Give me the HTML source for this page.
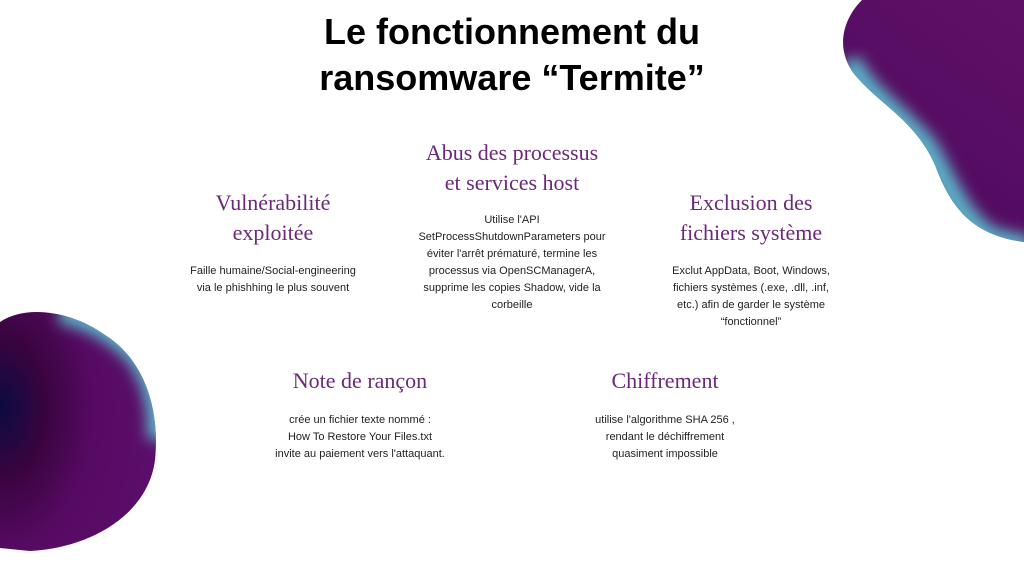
<!DOCTYPE html>
<html><head><meta charset="utf-8"><style>
body{margin:0;width:1024px;height:576px;background:#fff;position:relative;overflow:hidden;font-family:"Liberation Sans",sans-serif}
.t{position:absolute;left:0;width:1024px;text-align:center;font-weight:bold;font-size:36px;color:#000;line-height:46px;top:9px}
.h{position:absolute;text-align:center;font-family:"Liberation Serif",serif;color:#6a2a78;font-size:22px;line-height:30px}
.b{position:absolute;text-align:center;font-size:11px;color:#222;line-height:17px}
</style></head><body>
<svg width="1024" height="576" style="position:absolute;left:0;top:0">
<defs>
<linearGradient id="g1" gradientUnits="userSpaceOnUse" x1="860" y1="240" x2="1024" y2="0"><stop offset="0" stop-color="#4e0a60"/><stop offset="1" stop-color="#5e1066"/></linearGradient>
<radialGradient id="g2" cx="0" cy="0.4" r="1"><stop offset="0" stop-color="#0c0a40"/><stop offset="0.3" stop-color="#3a0440"/><stop offset="0.6" stop-color="#560a62"/><stop offset="1" stop-color="#5a0e6a"/></radialGradient>
<clipPath id="c1"><path d="M862,0 C842,20 835,50 855,75 C880,105 915,120 935,165 C950,205 970,235 1024,242 L1024,0 Z"/></clipPath>
<clipPath id="c2"><path d="M0,322 C25,305 70,310 105,335 C145,360 160,410 155,460 C148,515 90,548 30,551 L0,548 Z"/></clipPath>
<filter id="bl" x="-50%" y="-50%" width="200%" height="200%"><feGaussianBlur stdDeviation="7"/></filter>
</defs>
<path d="M862,0 C842,20 835,50 855,75 C880,105 915,120 935,165 C950,205 970,235 1024,242 L1024,0 Z" fill="url(#g1)"/>
<g clip-path="url(#c1)"><path d="M850,60 C860,90 900,115 925,145 C945,175 955,215 990,238 L1030,248" fill="none" stroke="#5cb4c8" stroke-width="22" filter="url(#bl)"/></g>
<path d="M0,322 C25,305 70,310 105,335 C145,360 160,410 155,460 C148,515 90,548 30,551 L0,548 Z" fill="url(#g2)"/>
<g clip-path="url(#c2)"><path d="M60,312 C90,318 120,335 140,360 C155,385 160,410 158,440" fill="none" stroke="#5cb4c8" stroke-width="22" filter="url(#bl)"/></g>
</svg>
<div class="t">Le fonctionnement du<br>ransomware “Termite”</div>
<div class="h" style="left:373px;width:278px;top:138px">Abus des processus<br>et services host</div>
<div class="b" style="left:402px;width:220px;top:212px">Utilise l'API<br>SetProcessShutdownParameters pour<br>éviter l'arrêt prématuré, termine les<br>processus via OpenSCManagerA,<br>supprime les copies Shadow, vide la<br>corbeille</div>
<div class="h" style="left:140px;width:266px;top:188px">Vulnérabilité<br>exploitée</div>
<div class="b" style="left:150px;width:246px;top:263px">Faille humaine/Social-engineering<br>via le phishhing le plus souvent</div>
<div class="h" style="left:620px;width:262px;top:188px">Exclusion des<br>fichiers système</div>
<div class="b" style="left:640px;width:222px;top:263px">Exclut AppData, Boot, Windows,<br>fichiers systèmes (.exe, .dll, .inf,<br>etc.) afin de garder le système<br>“fonctionnel”</div>
<div class="h" style="left:240px;width:240px;top:366px">Note de rançon</div>
<div class="b" style="left:240px;width:240px;top:412px">crée un fichier texte nommé :<br>How To Restore Your Files.txt<br>invite au paiement vers l'attaquant.</div>
<div class="h" style="left:545px;width:240px;top:366px">Chiffrement</div>
<div class="b" style="left:545px;width:240px;top:412px">utilise l'algorithme SHA 256 ,<br>rendant le déchiffrement<br>quasiment impossible</div>
</body></html>
